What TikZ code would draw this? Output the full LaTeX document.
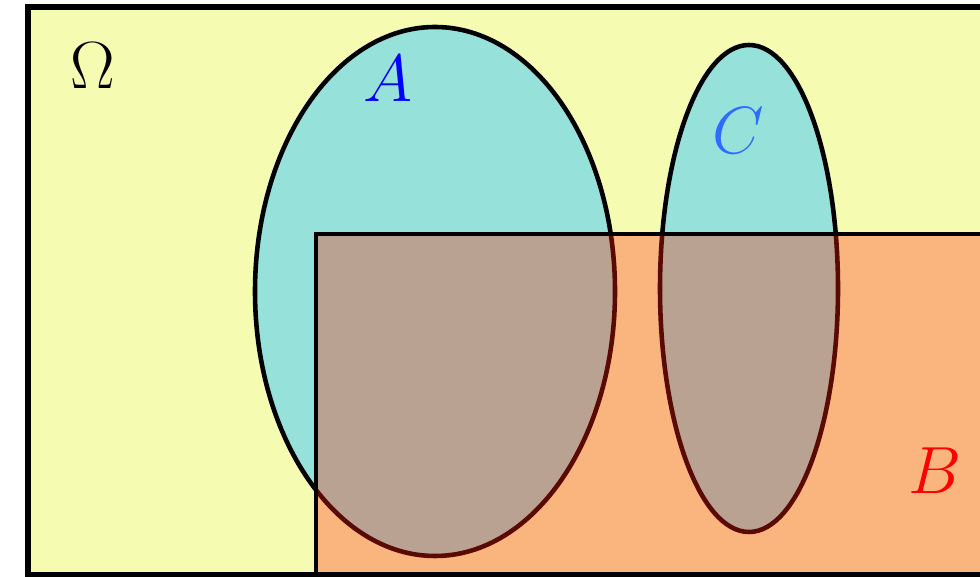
\RequirePackage{fix-cm}
\documentclass[tikz,border=0pt]{standalone}
\begin{document}
\begin{tikzpicture}[x=0.02cm,y=0.02cm,line width=2.6pt,font=\fontsize{38}{40}\selectfont]
  \definecolor{vennomega}{HTML}{F5FBB0}
  \definecolor{venncyan}{HTML}{96E2DA}
  \definecolor{vennorange}{HTML}{F9B57D}
  \definecolor{vennmix}{HTML}{BAA293}
  \definecolor{vennedge}{HTML}{5A0A00}
  \definecolor{vennblue}{HTML}{2E6BFF}

  \useasboundingbox (0,0) rectangle (980,577);
  \clip (0,0) rectangle (980,577);

  % Omega
  \fill[vennomega] (28,2) rectangle (1000,570);
  % A und C
  \filldraw[fill=venncyan] (435,285.5) ellipse [x radius=180,y radius=264.5];
  \filldraw[fill=venncyan] (749,288.5) ellipse [x radius=89,y radius=243.5];
  % B
  \fill[vennorange] (316,2) rectangle (1000,343);
  \begin{scope}
    \clip (316,2) rectangle (1000,343);
    \filldraw[fill=vennmix,draw=vennedge] (435,285.5) ellipse [x radius=180,y radius=264.5];
    \filldraw[fill=vennmix,draw=vennedge] (749,288.5) ellipse [x radius=89,y radius=243.5];
  \end{scope}
  \draw (316,2) -- (316,343) -- (1000,343);
  \draw[line width=3pt] (1000,570) -- (28,570) -- (28,2) -- (1000,2);

  \node (omega) at (93,511) {$\Omega$};
  \node[text=blue] (labA) at (388,498) {$A$};
  \node[text=vennblue] (labC) at (738,446) {$C$};
  \node[text=red] (labB) at (935,106) {$B$};
\end{tikzpicture}
\end{document}
